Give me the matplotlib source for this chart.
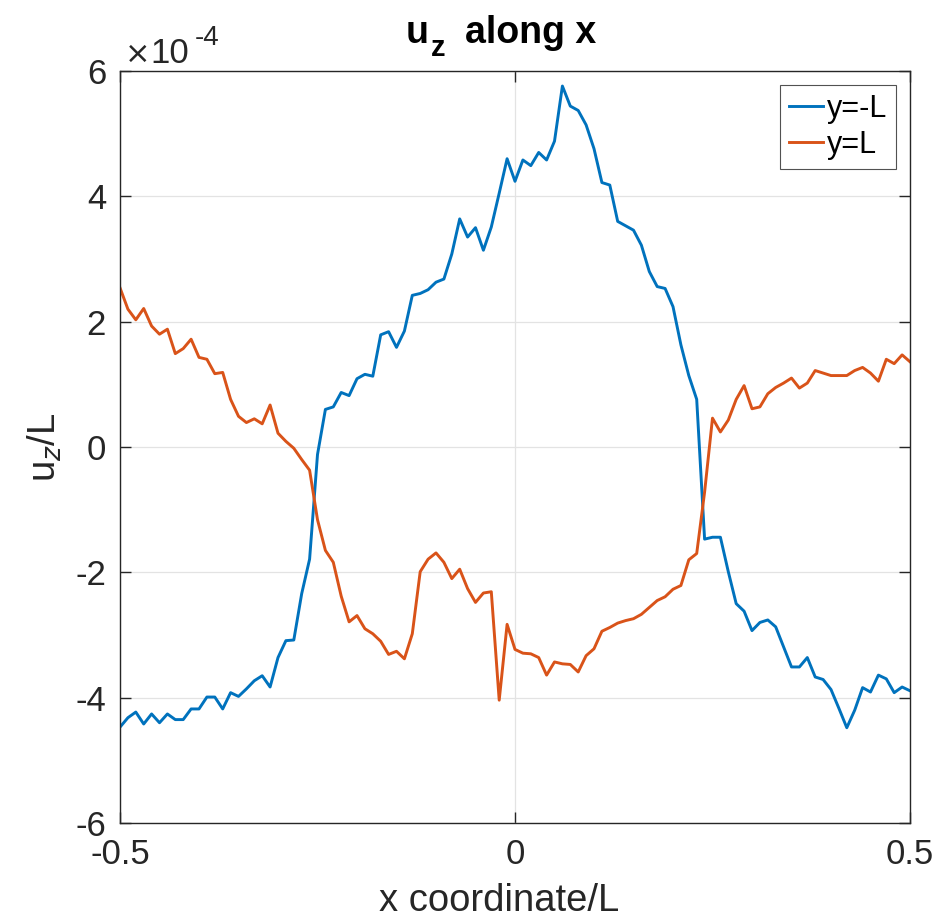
import matplotlib
matplotlib.use('Agg')
import matplotlib.pyplot as plt
import numpy as np
from matplotlib.ticker import FuncFormatter

# x coordinate / L, 101 points
x_coord = np.linspace(-0.5, 0.5, 101)

# u_z / L along y = -L  (units of 1e-4)
uz_yminus = [
    -4.47, -4.32, -4.23, -4.42, -4.26, -4.40, -4.26, -4.35, -4.35, -4.18,
    -4.18, -3.99, -3.99, -4.18, -3.92, -3.98, -3.86, -3.73, -3.65, -3.83,
    -3.36, -3.09, -3.08, -2.34, -1.79, -0.12, 0.60, 0.64, 0.87, 0.82,
    1.09, 1.16, 1.13, 1.79, 1.84, 1.59, 1.85, 2.42, 2.45, 2.51,
    2.63, 2.68, 3.08, 3.64, 3.35, 3.50, 3.14, 3.51, 4.05, 4.60,
    4.24, 4.58, 4.49, 4.70, 4.58, 4.88, 5.76, 5.44, 5.37, 5.14,
    4.76, 4.22, 4.18, 3.60, 3.53, 3.46, 3.22, 2.80, 2.56, 2.53,
    2.24, 1.63, 1.14, 0.76, -1.47, -1.44, -1.44, -1.99, -2.50, -2.62,
    -2.93, -2.80, -2.76, -2.87, -3.19, -3.51, -3.51, -3.36, -3.67, -3.71,
    -3.87, -4.17, -4.48, -4.20, -3.84, -3.91, -3.64, -3.70, -3.92, -3.83,
    -3.89,
]

# u_z / L along y = L  (units of 1e-4)
uz_yplus = [
    2.54, 2.20, 2.03, 2.21, 1.93, 1.80, 1.88, 1.49, 1.57, 1.72,
    1.43, 1.40, 1.17, 1.19, 0.76, 0.49, 0.39, 0.45, 0.37, 0.67,
    0.22, 0.09, -0.02, -0.20, -0.37, -1.16, -1.65, -1.84, -2.38, -2.79,
    -2.69, -2.90, -2.98, -3.10, -3.31, -3.26, -3.38, -2.98, -1.99, -1.79,
    -1.69, -1.84, -2.10, -1.95, -2.26, -2.48, -2.33, -2.31, -4.04, -2.83,
    -3.23, -3.29, -3.30, -3.36, -3.64, -3.43, -3.46, -3.47, -3.59, -3.33,
    -3.22, -2.94, -2.88, -2.81, -2.77, -2.74, -2.67, -2.56, -2.45, -2.39,
    -2.27, -2.21, -1.80, -1.70, -0.72, 0.46, 0.24, 0.43, 0.76, 0.98,
    0.61, 0.64, 0.85, 0.95, 1.02, 1.10, 0.94, 1.02, 1.22, 1.18,
    1.14, 1.14, 1.14, 1.22, 1.27, 1.18, 1.05, 1.40, 1.33, 1.47,
    1.36,
]

series_labels = ['y=-L', 'y=L']
scale = 1e-4

plt.rcParams['font.family'] = ['Liberation Sans', 'DejaVu Sans']
txt = '#262626'
W, H = 936, 923

fig = plt.figure(figsize=(W / 100, H / 100), dpi=100)
ax = fig.add_axes([120 / W, 1 - 823 / H, 790 / W, 752 / H])

ax.plot(x_coord, np.array(uz_yminus) * scale, color='#0072BD', lw=2.1, label=series_labels[0])
ax.plot(x_coord, np.array(uz_yplus) * scale, color='#D95319', lw=2.1, label=series_labels[1])

ax.set_xlim(-0.5, 0.5)
ax.set_ylim(-6e-4, 6e-4)
ax.set_xticks([-0.5, 0, 0.5])
ax.set_yticks(np.arange(-6, 7, 2) * scale)
ax.xaxis.set_major_formatter(FuncFormatter(lambda v, p: '%g' % v))
ax.yaxis.set_major_formatter(FuncFormatter(lambda v, p: '%d' % round(v / scale)))

ax.grid(True, color='#e3e3e3', lw=0.9)
ax.set_axisbelow(True)
ax.tick_params(direction='in', length=8, width=1.0, top=True, right=True,
               labelsize=25, colors=txt)
ax.tick_params(axis='y', pad=10)
ax.tick_params(axis='x', pad=11)
for s in ax.spines.values():
    s.set_color(txt)
    s.set_linewidth(1.0)

# exponent label, MATLAB style
fig.text(124 / W, 1 - 63 / H, r'$\times$', fontsize=22, color=txt,
         ha='left', va='baseline')
fig.text(150 / W, 1 - 63 / H, '10', fontsize=25, color=txt,
         ha='left', va='baseline')
fig.text(195 / W, 1 - 45 / H, '-4', fontsize=20, color=txt,
         ha='left', va='baseline')

# title with lowered subscript
fig.text(406 / W, 1 - 43 / H, 'u', fontsize=27, fontweight='bold', ha='left', va='baseline')
fig.text(431 / W, 1 - 56 / H, 'z', fontsize=21, fontweight='bold', ha='left', va='baseline')
fig.text(465 / W, 1 - 43 / H, 'along x', fontsize=27, fontweight='bold', ha='left', va='baseline')

fig.text(499 / W, 1 - 911 / H, 'x coordinate/L', fontsize=27.5, color=txt,
         ha='center', va='baseline')
ax.set_ylabel(r'u$_z$/L', fontsize=27.5, color=txt, labelpad=8)

leg = ax.legend(loc='upper right', fontsize=22, frameon=True, fancybox=False,
                handlelength=1.1, handletextpad=0.12, borderpad=0.3,
                labelspacing=0.2, borderaxespad=0.45)
leg.get_frame().set_edgecolor(txt)
leg.get_frame().set_linewidth(0.8)

fig.savefig('out.png', dpi=100)
